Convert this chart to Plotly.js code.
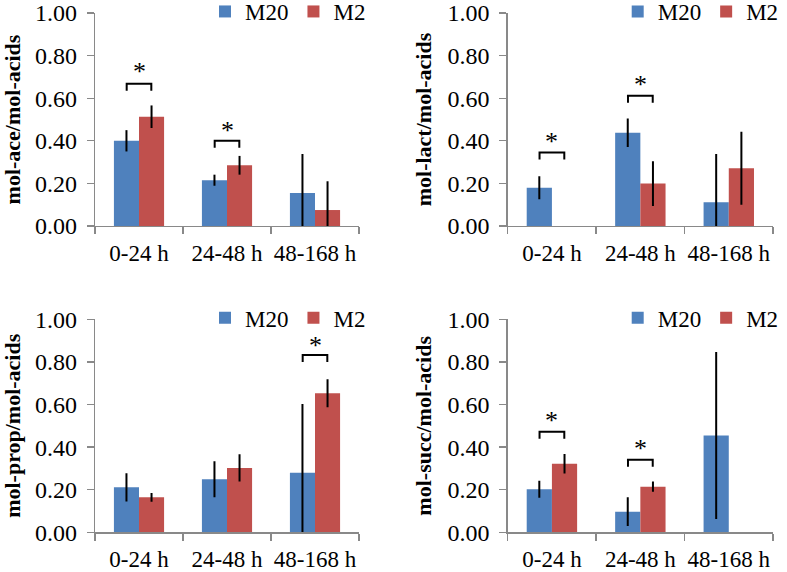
<!DOCTYPE html>
<html>
<head>
<meta charset="utf-8">
<script src="https://cdn.plot.ly/plotly-3.0.1.min.js"></script>
<style>html,body{margin:0;padding:0;background:#fff;}#chart{width:787px;height:572px;}</style>
</head>
<body>
<div id="chart"></div>
<script>
// ---- data ----
const categories = ["0-24 h", "24-48 h", "48-168 h"];
const seriesNames = ["M20", "M2"];

const aceM20 = [0.40, 0.215, 0.155];
const aceM20Err = [0.05, 0.026, 0.183];
const aceM2 = [0.513, 0.285, 0.075];
const aceM2Err = [0.053, 0.044, 0.135];

const lactM20 = [0.18, 0.438, 0.111];
const lactM20Err = [0.054, 0.067, 0.227];
const lactM2 = [null, 0.199, 0.271];
const lactM2Err = [0, 0.105, 0.171];

const propM20 = [0.211, 0.249, 0.28];
const propM20Err = [0.066, 0.085, 0.322];
const propM2 = [0.164, 0.302, 0.653];
const propM2Err = [0.02, 0.064, 0.066];

const succM20 = [0.202, 0.097, 0.454];
const succM20Err = [0.04, 0.068, 0.392];
const succM2 = [0.322, 0.214, null];
const succM2Err = [0.046, 0.024, 0];

const yTitles = ["mol-ace/mol-acids", "mol-lact/mol-acids", "mol-prop/mol-acids", "mol-succ/mol-acids"];

// significance marks: category index, bracket level, star level
const aceSigCat = [0, 1], aceSigY = [0.668, 0.400], aceStarY = [0.748, 0.47];
const lactSigCat = [0, 1], lactSigY = [0.345, 0.612], lactStarY = [0.42, 0.686];
const propSigCat = [2], propSigY = [0.832], propStarY = [0.90];
const succSigCat = [0, 1], succSigY = [0.472, 0.341], succStarY = [0.55, 0.418];

// ---- styling ----
const colM20 = "#4F81BD", colM2 = "#C0504D";
const axisCol = "#898989";
const FONT = "'Liberation Serif'";
const W = 787, H = 572;
const xDomL = [95 / W, 359 / W], xDomR = [507.7 / W, 773 / W];
const yDomT = [1 - 226 / H, 1 - 13 / H], yDomB = [1 - 532.3 / H, 1 - 319.3 / H];

const panels = [
  {m20: aceM20, e20: aceM20Err, m2: aceM2, e2: aceM2Err, sc: aceSigCat, sy: aceSigY, st: aceStarY, xd: xDomL, yd: yDomT},
  {m20: lactM20, e20: lactM20Err, m2: lactM2, e2: lactM2Err, sc: lactSigCat, sy: lactSigY, st: lactStarY, xd: xDomR, yd: yDomT},
  {m20: propM20, e20: propM20Err, m2: propM2, e2: propM2Err, sc: propSigCat, sy: propSigY, st: propStarY, xd: xDomL, yd: yDomB},
  {m20: succM20, e20: succM20Err, m2: succM2, e2: succM2Err, sc: succSigCat, sy: succSigY, st: succStarY, xd: xDomR, yd: yDomB}
];

const traces = [];
const layout = {
  width: W, height: H,
  margin: {l: 0, r: 0, t: 0, b: 0, autoexpand: false},
  paper_bgcolor: "#fff", plot_bgcolor: "#fff",
  font: {family: FONT, color: "#000", size: 22},
  barmode: "group", bargap: 0.43, bargroupgap: 0,
  shapes: [], annotations: []
};

const halfSpan = 0.14, leg = 0.033;

panels.forEach((p, i) => {
  const n = i + 1;
  const sfx = n === 1 ? "" : String(n);
  const xa = "x" + sfx, ya = "y" + sfx;
  const lg = "legend" + sfx;
  [[p.m20, p.e20, colM20, seriesNames[0]], [p.m2, p.e2, colM2, seriesNames[1]]].forEach(([ys, es, c, nm]) => {
    traces.push({
      type: "bar", x: categories, y: ys, name: nm,
      xaxis: xa, yaxis: ya, legend: lg,
      marker: {color: c, line: {width: 0}},
      error_y: {type: "data", array: es, visible: true, color: "#000", thickness: 2, width: 0},
      hoverinfo: "skip"
    });
  });
  layout["xaxis" + sfx] = {
    domain: p.xd, anchor: ya, type: "category", range: [-0.5, 2.5],
    showline: true, linecolor: axisCol, linewidth: 1.3,
    ticks: "outside", tickson: "boundaries", ticklen: 7, tickcolor: axisCol, tickwidth: 1.3,
    tickangle: 0, ticklabelstandoff: 6,
    tickfont: {size: 23, family: FONT, color: "#000"}, showgrid: false, zeroline: false, automargin: false,
    fixedrange: true
  };
  layout["yaxis" + sfx] = {
    domain: p.yd, anchor: xa, range: [0, 1], dtick: 0.2, tick0: 0, tickformat: ".2f",
    showline: true, linecolor: axisCol, linewidth: 1.3,
    ticks: "outside", ticklen: 7, tickcolor: axisCol, tickwidth: 1.3, ticklabelstandoff: 5,
    tickfont: {size: 24, family: FONT, color: "#000"}, showgrid: false, zeroline: false, automargin: false,
    title: {text: "<b>" + yTitles[i] + "</b>", font: {size: 22, family: FONT, color: "#000"}, standoff: 10},
    fixedrange: true
  };
  layout[lg] = {
    orientation: "h", x: p.xd[0] + 110 / W, y: p.yd[1] + 23 / H, xanchor: "left", yanchor: "top",
    font: {size: 23, family: FONT, color: "#000"}, bgcolor: "rgba(0,0,0,0)", borderwidth: 0,
    itemwidth: 30, tracegroupgap: 0, traceorder: "normal"
  };
  p.sc.forEach((c, k) => {
    const y = p.sy[k];
    layout.shapes.push({
      type: "path", xref: xa, yref: ya,
      path: `M${c - halfSpan},${y - leg} L${c - halfSpan},${y} L${c + halfSpan},${y} L${c + halfSpan},${y - leg}`,
      line: {color: "#000", width: 2}
    });
    layout.annotations.push({
      xref: xa, yref: ya, x: c, y: p.st[k], text: "*", showarrow: false,
      font: {size: 26, family: FONT, color: "#000"}, yanchor: "middle", xanchor: "center", yshift: -5
    });
  });
});

Plotly.newPlot("chart", traces, layout, {staticPlot: true, displayModeBar: false});
</script>
</body>
</html>
